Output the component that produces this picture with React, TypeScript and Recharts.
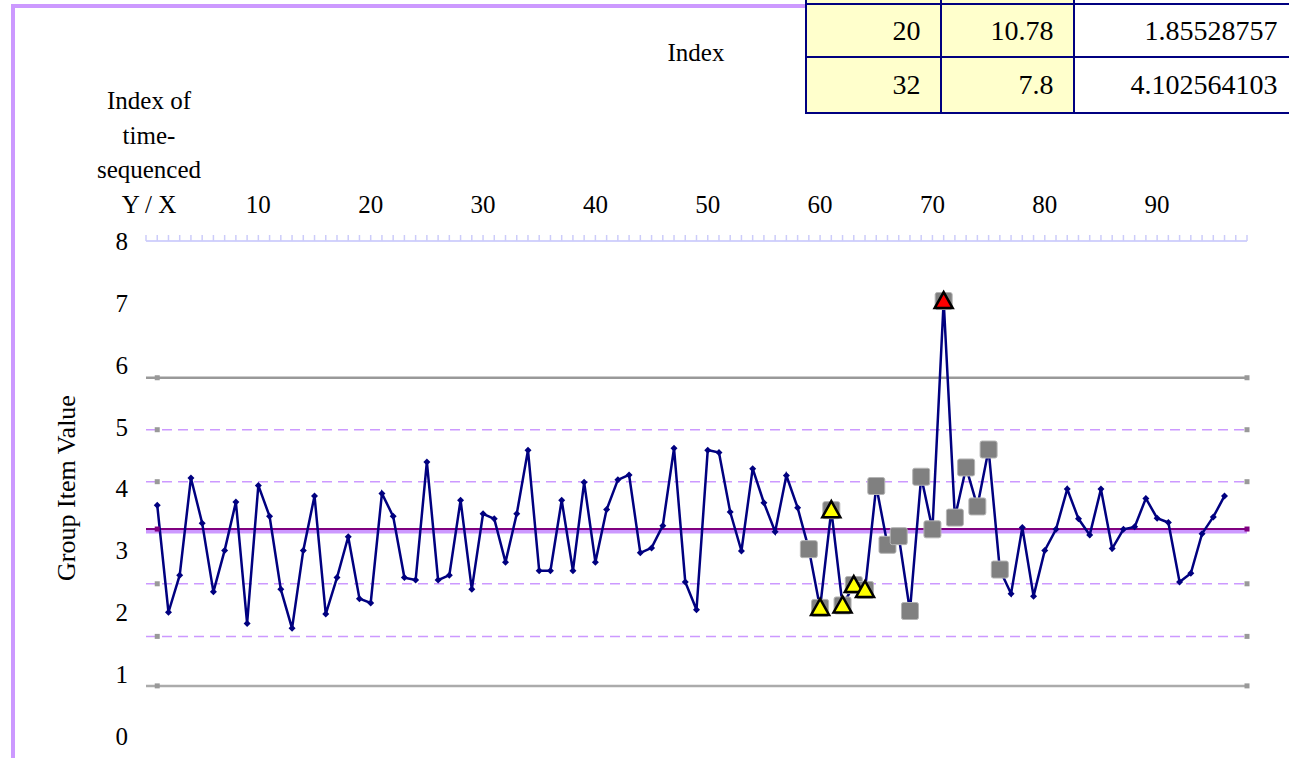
import React from 'react';
import {
  ComposedChart,
  Line,
  XAxis,
  YAxis,
  ReferenceLine,
  ReferenceDot
} from 'recharts';

// group item values, index 1..96
const groupValues = [
  3.73, 2.00, 2.60, 4.17, 3.44, 2.33, 3.00, 3.78, 1.82, 4.05,
  3.55, 2.37, 1.74, 3.00, 3.88, 1.97, 2.56, 3.22, 2.22, 2.15,
  3.92, 3.55, 2.56, 2.52, 4.43, 2.52, 2.60, 3.81, 2.37, 3.59,
  3.51, 2.81, 3.59, 4.62, 2.67, 2.67, 3.81, 2.67, 4.10, 2.81,
  3.66, 4.14, 4.22, 2.96, 3.04, 3.40, 4.65, 2.49, 2.04, 4.62,
  4.58, 3.62, 2.99, 4.32, 3.77, 3.30, 4.21, 3.69, 3.02, 2.07,
  3.65, 2.11, 2.44, 2.36, 4.04, 3.09, 3.23, 2.02, 4.19, 3.34,
  7.03, 3.53, 4.34, 3.71, 4.63, 2.69, 2.30, 3.37, 2.26, 3.00,
  3.34, 3.99, 3.51, 3.25, 3.99, 3.03, 3.34, 3.38, 3.84, 3.52,
  3.45, 2.49, 2.63, 3.27, 3.54, 3.88
];

// flagged points (index numbers)
const flaggedIdx = [59, 60, 61, 62, 63, 64, 65, 66, 67, 68, 69, 70, 71, 72, 73, 74, 75, 76];
const warningIdx = [60, 61, 62, 63, 64];
const alarmIdx = [71];

// control lines
const upperLimit = 5.79;
const lowerLimit = 0.81;
const zoneLines = [4.95, 4.11, 2.46, 1.61];
const centerLine = 3.345;
const centerBand = 3.305;

const yTicks = [0, 1, 2, 3, 4, 5, 6, 7, 8];
const xLabelTicks = [10, 20, 30, 40, 50, 60, 70, 80, 90];
const xMax = 98;
const xTicks = Array.from({ length: xMax + 1 }, (_, i) => i);
const headLines = ['Index of', 'time-', 'sequenced', 'Y / X'];

const tableRows = [
  ['', '', ''],
  ['20', '10.78', '1.85528757'],
  ['32', '7.8', '4.102564103']
];

const data = groupValues.map((v, i) => {
  const idx = i + 1;
  return {
    idx,
    value: v,
    flagged: flaggedIdx.includes(idx) ? v : null,
    warning: warningIdx.includes(idx) ? v : null,
    alarm: alarmIdx.includes(idx) ? v : null
  };
});

const FONT = '"Liberation Serif", "Times New Roman", serif';
const FS = 25;

const Diamond = (p: any) => {
  const { cx, cy, index } = p;
  if (cx == null || cy == null) return <g key={`dm-${index}`} />;
  const r = 3.5;
  return (
    <polygon
      key={`dm-${index}`}
      points={`${cx},${cy - r} ${cx + r},${cy} ${cx},${cy + r} ${cx - r},${cy}`}
      fill="#000080"
    />
  );
};

const GraySquare = (p: any) => {
  const { cx, cy, index, value } = p;
  if (cx == null || cy == null || value == null) return <g key={`sq-${index}`} />;
  return (
    <rect
      key={`sq-${index}`}
      x={cx - 8.5}
      y={cy - 8.5}
      width={17}
      height={17}
      rx={2}
      fill="#808080"
      stroke="#B4B4B4"
      strokeWidth={1}
    />
  );
};

const makeTriangle = (fill: string, name: string) => (p: any) => {
  const { cx, cy, index, value } = p;
  if (cx == null || cy == null || value == null) return <g key={`${name}-${index}`} />;
  return (
    <polygon
      key={`${name}-${index}`}
      points={`${cx},${cy - 9} ${cx + 9},${cy + 7} ${cx - 9},${cy + 7}`}
      fill={fill}
      stroke="#000"
      strokeWidth={2.5}
      strokeLinejoin="miter"
    />
  );
};

const YellowTriangle = makeTriangle('#FFFF00', 'yt');
const RedTriangle = makeTriangle('#FF0000', 'rt');

const TopTick = (p: any) => {
  const { x, payload } = p;
  const v = payload.value;
  if (v === 0) {
    return (
      <text textAnchor="middle" fontFamily={FONT} fontSize={FS} fill="#000">
        {headLines.map((t, i) => (
          <tspan key={t} x={x + 3} y={109 + i * 34.5}>{t}</tspan>
        ))}
      </text>
    );
  }
  if (xLabelTicks.includes(v)) {
    return (
      <text x={x} y={213} textAnchor="middle" fontFamily={FONT} fontSize={FS} fill="#000">
        {v}
      </text>
    );
  }
  return <g />;
};

const EndDot = (color: string) => (p: any) => (
  <rect x={p.cx - 2.5} y={p.cy - 2.5} width={5} height={5} fill={color} />
);

const colX = [806, 941, 1074, 1300];
const rowY = [-50, 4, 57.5, 112];

const App = () => {
  const limitLines = [upperLimit, lowerLimit];
  return (
    <div
      style={{
        position: 'absolute',
        left: 0,
        top: 0,
        width: 1289,
        height: 758,
        overflow: 'hidden',
        background: '#fff',
        fontFamily: FONT
      }}
    >
      {/* chart area border */}
      <div
        style={{
          position: 'absolute',
          left: 11,
          top: 4,
          width: 820,
          height: 800,
          borderLeft: '4px solid #CC99FF',
          borderTop: '4.5px solid #CC99FF'
        }}
      />

      <div style={{ position: 'absolute', left: 0, top: 0 }}>
        <ComposedChart
          width={1289}
          height={800}
          data={data}
          margin={{ top: 0, right: 42, bottom: 64, left: 0 }}
        >
          <XAxis
            dataKey="idx"
            type="number"
            orientation="top"
            domain={[0, xMax]}
            ticks={xTicks}
            interval={0}
            height={241}
            tickSize={6}
            axisLine={{ stroke: '#D2D2FC', strokeWidth: 2 }}
            tickLine={{ stroke: '#CCCCFA', strokeWidth: 1.5 }}
            tick={<TopTick />}
          />
          <YAxis
            type="number"
            domain={[0, 8]}
            ticks={yTicks}
            interval={0}
            width={146}
            axisLine={false}
            tickLine={false}
            tickSize={0}
            tickMargin={18}
            tick={{ fontFamily: FONT, fontSize: FS, fill: '#000' }}
          />

          {zoneLines.map((v) => (
            <ReferenceLine
              key={`z-${v}`}
              y={v}
              stroke="#CC99FF"
              strokeWidth={1.5}
              strokeDasharray="10 6"
            />
          ))}
          <ReferenceLine y={upperLimit} stroke="#999999" strokeWidth={2.5} />
          <ReferenceLine y={lowerLimit} stroke="#ABABAB" strokeWidth={2.5} />
          <ReferenceLine y={centerBand} stroke="#CC99FF" strokeWidth={4} />
          <ReferenceLine y={centerLine} stroke="#800080" strokeWidth={2} />

          {[...zoneLines, ...limitLines].map((v) => (
            <ReferenceDot key={`l-${v}`} x={1} y={v} r={2} shape={EndDot('#999999')} />
          ))}
          {[...zoneLines, ...limitLines].map((v) => (
            <ReferenceDot key={`r-${v}`} x={xMax} y={v} r={2} shape={EndDot('#999999')} />
          ))}
          <ReferenceDot x={1} y={centerLine} r={2} shape={EndDot('#800080')} />
          <ReferenceDot x={xMax} y={centerLine} r={2} shape={EndDot('#800080')} />

          <Line
            dataKey="value"
            stroke="#000080"
            strokeWidth={2.5}
            dot={Diamond}
            activeDot={false}
            isAnimationActive={false}
          />
          <Line
            dataKey="flagged"
            stroke="none"
            dot={GraySquare}
            activeDot={false}
            isAnimationActive={false}
          />
          <Line
            dataKey="warning"
            stroke="none"
            dot={YellowTriangle}
            activeDot={false}
            isAnimationActive={false}
          />
          <Line
            dataKey="alarm"
            stroke="none"
            dot={RedTriangle}
            activeDot={false}
            isAnimationActive={false}
          />
        </ComposedChart>
      </div>

      {/* y axis title */}
      <div
        style={{
          position: 'absolute',
          left: 67,
          top: 488,
          transform: 'translate(-50%, -50%) rotate(-90deg)',
          whiteSpace: 'nowrap',
          fontSize: 26,
          lineHeight: '28px'
        }}
      >
        Group Item Value
      </div>

      {/* x axis title */}
      <div
        style={{
          position: 'absolute',
          left: 696,
          top: 53,
          transform: 'translate(-50%, -50%)',
          whiteSpace: 'nowrap',
          fontSize: FS,
          lineHeight: '28px'
        }}
      >
        Index
      </div>

      {/* table */}
      {tableRows.map((row, r) =>
        row.map((cell, c) => (
          <div
            key={`t-${r}-${c}`}
            style={{
              position: 'absolute',
              left: colX[c] - 1.5,
              top: rowY[r] - 1.5,
              width: colX[c + 1] - colX[c] + 3,
              height: rowY[r + 1] - rowY[r] + 3,
              boxSizing: 'border-box',
              border: '2.5px solid #000080',
              background: c < 2 ? '#FFFFCC' : '#FFFFFF',
              display: 'flex',
              alignItems: 'center',
              justifyContent: 'flex-end',
              paddingRight: c < 2 ? 20 : 22,
              fontSize: 28,
              color: '#000'
            }}
          >
            {cell}
          </div>
        ))
      )}
    </div>
  );
};

export default App;
